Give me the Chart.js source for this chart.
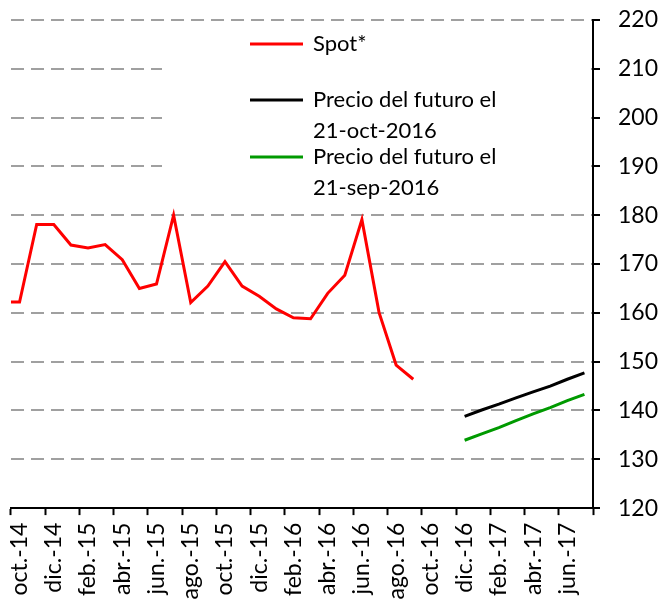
<!DOCTYPE html>
<html>
<head>
<meta charset="utf-8">
<script src="https://cdn.jsdelivr.net/npm/chart.js@4"></script>
<style>
html, body { margin: 0; padding: 0; background: #fff; }
#wrap { width: 662px; height: 607px; }
</style>
</head>
<body>
<div id="wrap"><canvas id="futuresChart"></canvas></div>
<script>
// Months (sep.-14 only feeds the clipped first segment of the spot line)
const months = [
    'sep.-14', 'oct.-14', 'nov.-14', 'dic.-14',
    'ene.-15', 'feb.-15', 'mar.-15', 'abr.-15', 'may.-15', 'jun.-15',
    'jul.-15', 'ago.-15', 'sep.-15', 'oct.-15', 'nov.-15', 'dic.-15',
    'ene.-16', 'feb.-16', 'mar.-16', 'abr.-16', 'may.-16', 'jun.-16',
    'jul.-16', 'ago.-16', 'sep.-16', 'oct.-16', 'nov.-16', 'dic.-16',
    'ene.-17', 'feb.-17', 'mar.-17', 'abr.-17', 'may.-17', 'jun.-17', 'jul.-17'
];
const spot = [
    162.2, 162.2, 178.1, 178.1,
    173.9, 173.3, 174.0, 170.9, 165.0, 165.9,
    180.0, 162.1, 165.5, 170.5, 165.5, 163.4,
    160.8, 159.0, 158.8, 164.0, 167.7, 179.1,
    160.1, 149.3, 146.4
];
const futuresStart = 'dic.-16';
const futureOct = [138.8, 140.1, 141.3, 142.6, 143.8, 145.0, 146.4, 147.7];
const futureSep = [133.9, 135.2, 136.5, 137.9, 139.3, 140.6, 142.0, 143.3];
const yTicks = [120, 130, 140, 150, 160, 170, 180, 190, 200, 210, 220];

const seriesNames = [
    ['Spot*'],
    ['Precio del futuro el', '21-oct-2016'],
    ['Precio del futuro el', '21-sep-2016']
];
const seriesColors = ['#ff0000', '#000000', '#009a00'];

const FONT = 'Lato';

function padFutures(values) {
    const lead = months.indexOf(futuresStart);
    return new Array(lead).fill(null).concat(values);
}

// White legend box inside the plot, drawn over the gridlines
const legendBox = {
    id: 'legendBox',
    beforeDatasetsDraw(chart) {
        const ctx = chart.ctx;
        const rowsY = [44, 100, 157];
        ctx.save();
        ctx.fillStyle = '#ffffff';
        ctx.fillRect(162, 26, 423, 181);
        ctx.font = '22px ' + FONT;
        ctx.textBaseline = 'middle';
        chart.data.datasets.forEach((ds, i) => {
            const y = rowsY[i];
            ctx.strokeStyle = ds.borderColor;
            ctx.lineWidth = 3;
            ctx.beginPath();
            ctx.moveTo(250, y);
            ctx.lineTo(303, y);
            ctx.stroke();
            ctx.fillStyle = '#000';
            seriesNames[i].forEach((line, j) => ctx.fillText(line, 313, y + j * 31));
        });
        ctx.restore();
    }
};

new Chart(document.getElementById('futuresChart'), {
    type: 'line',
    data: {
        labels: months,
        datasets: [
            { label: seriesNames[0].join(' '), data: spot, borderColor: seriesColors[0] },
            { label: seriesNames[1].join(' '), data: padFutures(futureOct), borderColor: seriesColors[1] },
            { label: seriesNames[2].join(' '), data: padFutures(futureSep), borderColor: seriesColors[2] }
        ]
    },
    options: {
        responsive: true,
        maintainAspectRatio: false,
        animation: false,
        layout: { padding: { left: 11, right: 0, top: 20, bottom: 0 } },
        elements: {
            point: { radius: 0, hoverRadius: 0 },
            line: { borderWidth: 3, tension: 0, borderJoinStyle: 'miter' }
        },
        scales: {
            x: {
                type: 'category',
                min: 'oct.-14',
                offset: true,
                grid: {
                    offset: true,
                    drawOnChartArea: false,
                    tickLength: 7,
                    tickWidth: 2,
                    tickBorderDash: [],
                    tickColor: (c) => (c.index === undefined || c.index % 2 === 0) ? '#000' : 'rgba(0,0,0,0)'
                },
                border: { display: true, color: '#000', width: 2 },
                ticks: {
                    autoSkip: false,
                    maxRotation: 90,
                    minRotation: 90,
                    padding: 7.5,
                    color: '#000',
                    font: { family: FONT, size: 23 },
                    callback: function(value, index) {
                        return index % 2 === 0 ? this.getLabelForValue(value) : '';
                    }
                }
            },
            y: {
                position: 'right',
                min: 120,
                max: 220,
                afterBuildTicks: (scale) => { scale.ticks = yTicks.map(v => ({ value: v })); },
                afterFit: (scale) => {
                    scale.width = 69;
                    scale.paddingTop = 0;
                    scale.paddingBottom = 0;
                },
                grid: {
                    color: (c) => (c.tick && c.tick.value === 120) ? 'rgba(0,0,0,0)' : '#a0a0a0',
                    lineWidth: 2,
                    tickLength: 7,
                    tickWidth: 2,
                    tickBorderDash: [],
                    tickColor: '#000'
                },
                border: { display: true, color: '#000', width: 2, dash: [13, 7] },
                ticks: {
                    padding: 18,
                    color: '#000',
                    font: { family: FONT, size: 23 }
                }
            }
        },
        plugins: {
            legend: { display: false },
            tooltip: { enabled: false }
        }
    },
    plugins: [legendBox]
});
</script>
</body>
</html>
